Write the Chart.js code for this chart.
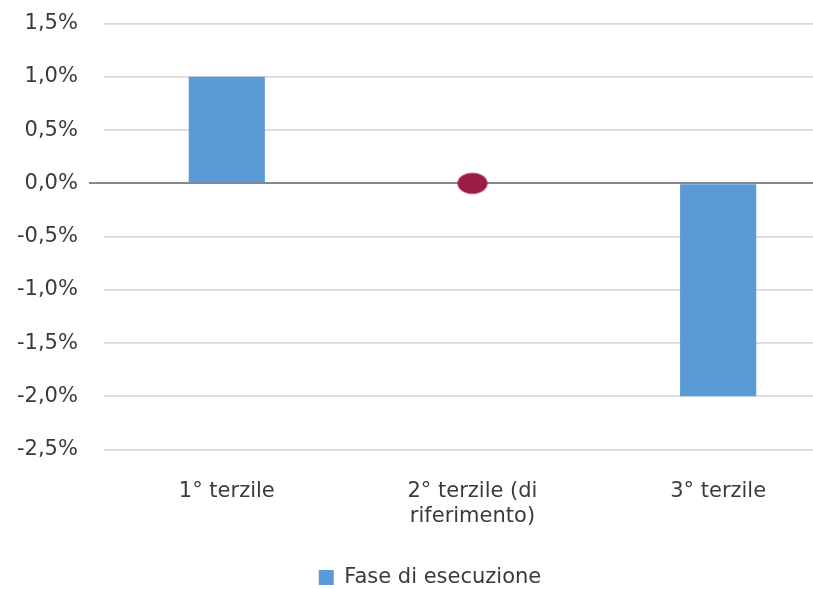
<!DOCTYPE html>
<html>
<head>
<meta charset="utf-8">
<title>Fase di esecuzione</title>
<script src="https://cdn.jsdelivr.net/npm/chart.js@4.4.1/dist/chart.umd.min.js"></script>
<style>
  html, body { margin: 0; padding: 0; background: #fff; overflow: hidden; }
  #wrap { width: 854px; height: 589px; }
</style>
</head>
<body>
<div id="wrap"><canvas id="chart" width="854" height="589"></canvas></div>
<script>
const categories = ["1° terzile", ["2° terzile (di", "riferimento)"], "3° terzile"];
const barValues = [1.0, 0, -2.0];
const markerValues = [null, 0, null];
const seriesLabel = "Fase di esecuzione";

const yMin = -2.5;
const yMax = 1.5;
const yStep = 0.5;

// ellipse marker for the reference tercile
const marker = document.createElement("canvas");
marker.width = 32;
marker.height = 24;
const mctx = marker.getContext("2d");
mctx.fillStyle = "#9b1c40";
mctx.beginPath();
mctx.ellipse(16, 12, 15, 10.5, 0, 0, Math.PI * 2);
mctx.fill();

const textColor = "#3a3a3a";
const font = { family: "'DejaVu Sans', sans-serif", size: 21 };

// trim the fixed 10px the legend keeps under its row
const legendTrim = {
  id: "legendTrim",
  beforeInit(chart) {
    const fit = chart.legend.fit;
    chart.legend.fit = function () {
      fit.call(this);
      this.height -= 9;
    };
  }
};

new Chart(document.getElementById("chart"), {
  data: {
    labels: categories,
    datasets: [
      {
        type: "bar",
        label: seriesLabel,
        data: barValues,
        backgroundColor: "#5b9bd5",
        borderColor: "#5b9bd5",
        borderWidth: 0,
        categoryPercentage: 1,
        barPercentage: 0.31,
        order: 2
      },
      {
        type: "line",
        label: "riferimento",
        data: markerValues,
        showLine: false,
        pointStyle: marker,
        pointRadius: 12,
        order: 1
      }
    ]
  },
  options: {
    responsive: false,
    animation: false,
    layout: { padding: { left: 6, right: 0, top: 2, bottom: 0 } },
    plugins: {
      tooltip: { enabled: false },
      legend: {
        position: "bottom",
        labels: {
          color: textColor,
          font: font,
          boxWidth: 15,
          boxHeight: 15,
          padding: 17,
          filter: (item) => item.datasetIndex === 0
        }
      }
    },
    scales: {
      x: {
        grid: { display: false },
        border: { display: false },
        ticks: { color: textColor, font: font, padding: 21, maxRotation: 0 }
      },
      y: {
        min: yMin,
        max: yMax,
        border: { display: false },
        grid: {
          color: (ctx) => ctx.tick && ctx.tick.value === 0 ? "#898989" : "#d9d9d9",
          lineWidth: (ctx) => ctx.tick && ctx.tick.value === 0 ? 2 : 1.8,
          tickColor: (ctx) => ctx.tick && ctx.tick.value === 0 ? "#898989" : "rgba(0,0,0,0)",
          tickLength: 15
        },
        ticks: {
          stepSize: yStep,
          color: textColor,
          font: font,
          padding: 11,
          callback: (v) => v.toFixed(1).replace(".", ",") + "%"
        }
      }
    }
  },
  plugins: [legendTrim]
});
</script>
</body>
</html>
